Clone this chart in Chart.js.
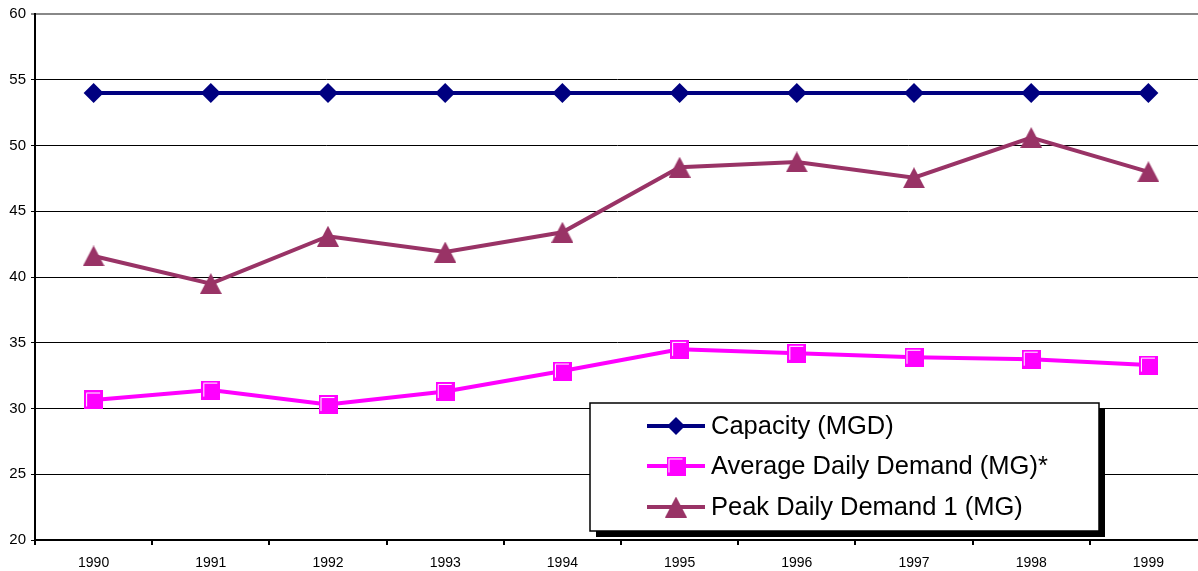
<!DOCTYPE html>
<html>
<head>
<meta charset="utf-8">
<script src="https://cdn.jsdelivr.net/npm/chart.js@4/dist/chart.umd.min.js"></script>
<style>
  html, body { margin: 0; padding: 0; background: #fff; overflow: hidden; }
  #c { display: block; }
</style>
</head>
<body>
<canvas id="c" width="1198" height="571" style="width:1198px;height:571px"></canvas>
<script>
// Water system capacity vs. demand, 1990-1999
const years = ['1990', '1991', '1992', '1993', '1994', '1995', '1996', '1997', '1998', '1999'];
const capacity = [54, 54, 54, 54, 54, 54, 54, 54, 54, 54];
const averageDemand = [30.65, 31.4, 30.3, 31.3, 32.85, 34.5, 34.2, 33.9, 33.75, 33.3];
const peakDemand = [41.6, 39.5, 43.1, 41.9, 43.4, 48.35, 48.75, 47.55, 50.6, 48.0];
const yTicks = [20, 25, 30, 35, 40, 45, 50, 55, 60];

const FONT = "'Liberation Sans', Arial, sans-serif";
const NAVY = '#000080';
const MAGENTA = '#FF00FF';
const PLUM = '#993366';

// Square marker with a white inner highlight
function makeSquare(size, color) {
  const c = document.createElement('canvas');
  c.width = size; c.height = size;
  const g = c.getContext('2d');
  g.fillStyle = color;
  g.fillRect(0, 0, size, size);
  g.strokeStyle = '#fff';
  g.lineWidth = 1;
  g.beginPath();
  g.moveTo(2.5, size - 3);
  g.lineTo(2.5, 2.5);
  g.lineTo(size - 3, 2.5);
  g.stroke();
  return c;
}
// Upward triangle marker centred on its bounding box
function makeTriangle(w, h, color) {
  const c = document.createElement('canvas');
  c.width = w; c.height = h;
  const g = c.getContext('2d');
  g.fillStyle = color;
  g.beginPath();
  g.moveTo(w / 2, 0);
  g.lineTo(w, h);
  g.lineTo(0, h);
  g.closePath();
  g.fill();
  return c;
}
const squareMarker = makeSquare(19, MAGENTA);
const triangleMarker = makeTriangle(22, 21, PLUM);

// The plot area runs a few pixels past the right edge of the canvas
const extendRight = {
  id: 'extendRight',
  afterLayout(chart) {
    const area = chart.chartArea;
    area.right = chart.width + 9;
    area.width = area.right - area.left;
    const xs = chart.scales.x;
    xs.right = area.right;
    xs.width = xs.right - xs.left;
    xs.configure();
  }
};

// Boxed legend with drop shadow, drawn inside the plot area
const boxLegend = {
  id: 'boxLegend',
  afterDatasetsDraw(chart) {
    const ctx = chart.ctx;
    const x = 590, y = 403, w = 509, h = 128;
    ctx.save();
    ctx.fillStyle = '#000';
    ctx.fillRect(x + 6, y + 6, w, h);
    ctx.fillStyle = '#fff';
    ctx.fillRect(x, y, w, h);
    ctx.strokeStyle = '#000';
    ctx.lineWidth = 1.5;
    ctx.strokeRect(x, y, w, h);

    const rows = [426, 466, 507];
    chart.data.datasets.forEach((ds, i) => {
      const ry = rows[i];
      ctx.strokeStyle = ds.borderColor;
      ctx.lineWidth = 4;
      ctx.beginPath();
      ctx.moveTo(647, ry);
      ctx.lineTo(705, ry);
      ctx.stroke();
      const cx = 676;
      if (ds.pointStyle === 'rectRot') {
        ctx.fillStyle = ds.pointBackgroundColor;
        ctx.beginPath();
        ctx.moveTo(cx, ry - 9);
        ctx.lineTo(cx + 9, ry);
        ctx.lineTo(cx, ry + 9);
        ctx.lineTo(cx - 9, ry);
        ctx.closePath();
        ctx.fill();
      } else {
        const im = ds.pointStyle;
        ctx.drawImage(im, cx - im.width / 2, ry - im.height / 2);
      }
      ctx.fillStyle = '#000';
      ctx.font = '25.5px ' + FONT;
      ctx.textBaseline = 'middle';
      ctx.textAlign = 'left';
      ctx.fillText(ds.label, 711, ry + 1);
    });
    ctx.restore();
  }
};

new Chart(document.getElementById('c'), {
  type: 'line',
  data: {
    labels: years,
    datasets: [
      {
        label: 'Capacity (MGD)',
        data: capacity,
        borderColor: NAVY,
        backgroundColor: NAVY,
        pointBackgroundColor: NAVY,
        pointBorderWidth: 0,
        borderWidth: 4,
        pointStyle: 'rectRot',
        pointRadius: 10,
        pointHoverRadius: 10
      },
      {
        label: 'Average Daily Demand (MG)*',
        data: averageDemand,
        borderColor: MAGENTA,
        backgroundColor: MAGENTA,
        borderWidth: 4,
        pointStyle: squareMarker,
        pointRadius: 10
      },
      {
        label: 'Peak Daily Demand 1 (MG)',
        data: peakDemand,
        borderColor: PLUM,
        backgroundColor: PLUM,
        borderWidth: 4,
        pointStyle: triangleMarker,
        pointRadius: 10
      }
    ]
  },
  options: {
    responsive: false,
    animation: false,
    devicePixelRatio: 1,
    layout: { padding: { top: 14, right: 0, left: 0, bottom: 0 } },
    plugins: {
      legend: { display: false },
      tooltip: { enabled: false }
    },
    elements: { line: { tension: 0 } },
    scales: {
      x: {
        offset: true,
        grid: {
          offset: true,
          drawOnChartArea: false,
          drawTicks: true,
          tickLength: 5,
          color: '#000',
          lineWidth: 2
        },
        border: { display: true, color: '#000', width: 2 },
        ticks: {
          color: '#000',
          font: { family: FONT, size: 14 },
          padding: 10,
          maxRotation: 0,
          autoSkip: false
        },
        afterFit(s) { s.height = 31; }
      },
      y: {
        min: 20,
        max: 60,
        afterBuildTicks(s) { s.ticks = yTicks.map(v => ({ value: v })); },
        grid: {
          color: c => (c.tick && c.tick.value === 60) ? '#888' : '#000',
          lineWidth: c => (c.tick && c.tick.value === 60) ? 2 : 1,
          drawTicks: true,
          tickLength: 4
        },
        border: { display: true, color: '#000', width: 2 },
        ticks: {
          color: '#000',
          font: { family: FONT, size: 15 },
          padding: 5
        },
        afterFit(s) { s.width = 35; }
      }
    }
  },
  plugins: [extendRight, boxLegend]
});
</script>
</body>
</html>
